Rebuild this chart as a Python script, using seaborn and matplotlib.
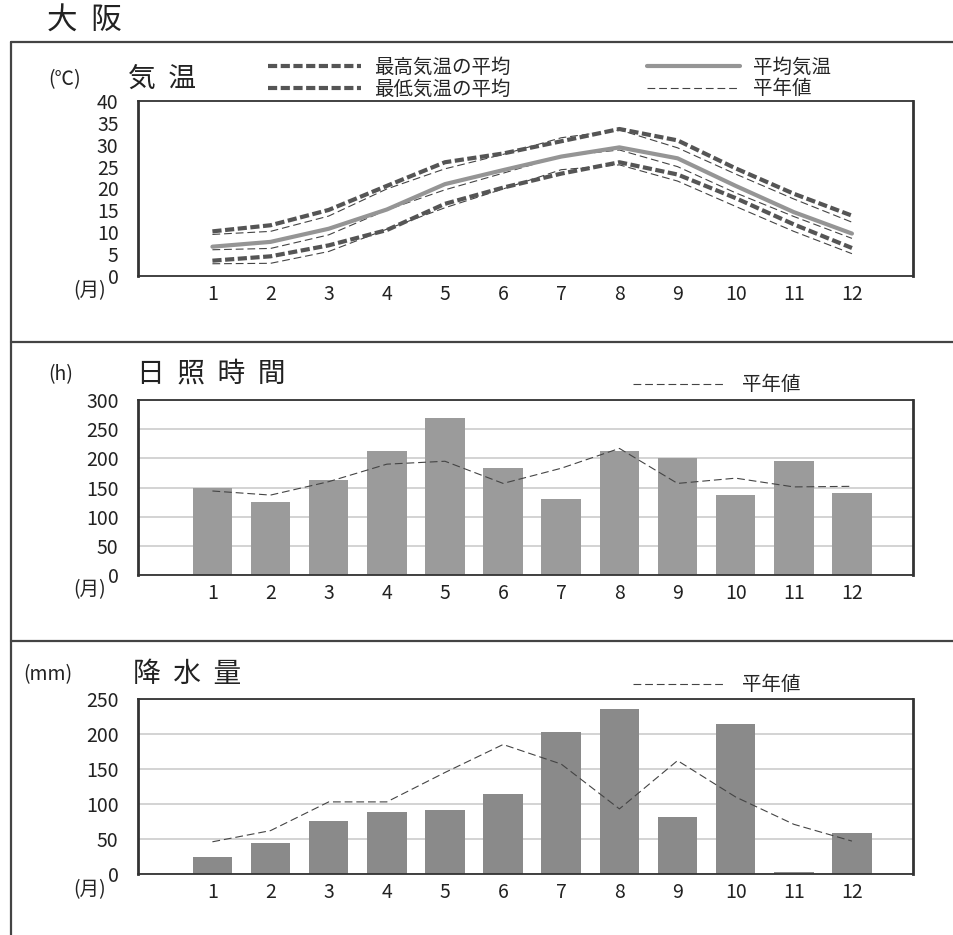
import numpy as np
import pandas as pd
import matplotlib.pyplot as plt
from matplotlib.lines import Line2D
import seaborn as sns

# Data (Osaka, monthly)
months = list(range(1, 13))
month_labels = [str(m) for m in months]

temp_max = [10.2, 11.6, 15.1, 20.6, 26.0, 28.0, 30.8, 33.6, 31.0, 24.6, 18.8, 13.8]
temp_mean = [6.7, 7.8, 10.8, 15.2, 21.0, 24.2, 27.3, 29.4, 26.9, 20.6, 14.6, 9.7]
temp_min = [3.5, 4.5, 7.0, 10.5, 16.5, 20.2, 23.4, 26.0, 23.2, 17.8, 11.8, 6.4]
norm_max = [9.5, 10.2, 13.7, 19.9, 24.5, 27.8, 31.6, 33.4, 29.3, 23.3, 17.6, 12.3]
norm_mean = [6.0, 6.3, 9.4, 15.1, 19.7, 23.5, 27.4, 28.8, 25.0, 19.0, 13.6, 8.6]
norm_min = [2.8, 2.9, 5.6, 10.7, 15.6, 19.9, 24.3, 25.4, 21.7, 15.9, 10.2, 5.1]

sunshine = [150, 126, 163, 213, 270, 183, 131, 213, 200, 138, 195, 141]
norm_sunshine = [144, 137, 160, 190, 195, 157, 183, 217, 157, 166, 151, 152]

precip = [24, 45, 76, 89, 91, 115, 203, 236, 82, 215, 2.5, 59]
norm_precip = [46, 62, 103, 103, 145, 185, 157, 93, 162, 110, 71, 47]

sns.set_theme(style="white")
plt.rcParams['font.family'] = ['Noto Sans CJK JP', 'DejaVu Sans']

W, H = 954, 935
fig = plt.figure(figsize=(W / 100, H / 100), dpi=100)
TXT = '#222222'


def fx(x):
    return x / W


def fy(y):
    return 1 - y / H


def add_panel(top, bottom):
    return fig.add_axes([fx(138), fy(bottom), fx(913) - fx(138), (bottom - top) / H])


def style_axes(ax):
    for side in ['left', 'right']:
        ax.spines[side].set_linewidth(2.0)
    for side in ['top', 'bottom']:
        ax.spines[side].set_linewidth(1.3)
    for s in ax.spines.values():
        s.set_color('#333333')
        s.set_visible(True)
    ax.set_xlim(-0.28, 13.05)
    ax.set_xticks(months)
    ax.set_xticklabels(month_labels)
    ax.set_xlabel('')
    ax.set_ylabel('')
    ax.tick_params(axis='both', labelsize=14, labelcolor=TXT)


def panel_title(unit, unit_x, title, title_x, base_y):
    fig.text(fx(unit_x), fy(base_y - 2), unit, fontsize=14, va='baseline', ha='left', color=TXT)
    fig.text(fx(title_x), fy(base_y), title, fontsize=20, va='baseline', ha='left', color=TXT)


# frame lines of the whole sheet
line_kw = dict(color='#444444', linewidth=1.6, transform=fig.transFigure)
fig.add_artist(Line2D([fx(11), 1], [fy(42), fy(42)], **line_kw))
fig.add_artist(Line2D([fx(11), 1], [fy(342), fy(342)], **line_kw))
fig.add_artist(Line2D([fx(11), 1], [fy(641), fy(641)], **line_kw))
fig.add_artist(Line2D([fx(11), fx(11)], [fy(42), 0], **line_kw))

fig.text(fx(47), fy(30), '大  阪', fontsize=22, va='baseline', ha='left', color=TXT)

thick_dash = (0, (2.2, 0.85))
thin_dash = (0, (7, 3.5))
dark = '#555555'

# 1. Temperature
ax1 = add_panel(101, 276)
sns.lineplot(x=months, y=norm_max, ax=ax1, color='#444444', linewidth=0.8, linestyle=thin_dash)
sns.lineplot(x=months, y=norm_mean, ax=ax1, color='#444444', linewidth=0.8, linestyle=thin_dash)
sns.lineplot(x=months, y=norm_min, ax=ax1, color='#444444', linewidth=0.8, linestyle=thin_dash,
             label='平年値')
sns.lineplot(x=months, y=temp_max, ax=ax1, color=dark, linewidth=3, linestyle=thick_dash,
             label='最高気温の平均')
sns.lineplot(x=months, y=temp_min, ax=ax1, color=dark, linewidth=3, linestyle=thick_dash,
             label='最低気温の平均')
sns.lineplot(x=months, y=temp_mean, ax=ax1, color='#959595', linewidth=3, label='平均気温')
style_axes(ax1)
ax1.set_ylim(0, 40)
ax1.set_yticks(range(0, 41, 5))
ax1.tick_params(axis='y', direction='in', length=14, width=1.3, pad=14, color='#333333')
ax1.tick_params(axis='x', direction='in', length=4, width=1.3, pad=6, color='#333333')
handles, labels = ax1.get_legend_handles_labels()
order = ['最高気温の平均', '最低気温の平均', '平均気温', '平年値']
hmap = dict(zip(labels, handles))
ax1.legend([hmap[k] for k in order], order, ncol=2, loc='center left',
           bbox_to_anchor=(fx(268), fy(78)), bbox_transform=fig.transFigure,
           frameon=False, fontsize=14, handlelength=4.8, handletextpad=0.65,
           columnspacing=7.0, labelspacing=0.05, borderpad=0, borderaxespad=0)
panel_title('(℃)', 48, '気  温', 128, 87)
fig.text(fx(90), fy(291), '(月)', fontsize=14, va='center', ha='center', color=TXT)

# 2. Sunshine duration
ax2 = add_panel(400, 575)
sns.barplot(x=months, y=sunshine, ax=ax2, native_scale=True, color='#9b9b9b',
            saturation=1, width=0.68, errorbar=None, edgecolor='none')
sns.lineplot(x=months, y=norm_sunshine, ax=ax2, color='#444444', linewidth=0.8,
             linestyle=thin_dash, label='平年値')
style_axes(ax2)
ax2.set_ylim(0, 300)
ax2.set_yticks(range(0, 301, 50))
ax2.set_axisbelow(True)
ax2.yaxis.grid(True, color='#cccccc', linewidth=1.2)
ax2.tick_params(axis='both', length=0, pad=14)
ax2.tick_params(axis='x', pad=6)
ax2.legend(loc='center left', bbox_to_anchor=(fx(633), fy(385)), bbox_transform=fig.transFigure,
           frameon=False, fontsize=14, handlelength=4.8, handletextpad=0.8,
           borderpad=0, borderaxespad=0)
panel_title('(h)', 48, '日  照  時  間', 137, 382)
fig.text(fx(90), fy(590), '(月)', fontsize=14, va='center', ha='center', color=TXT)

# 3. Precipitation
ax3 = add_panel(699, 874)
sns.barplot(x=months, y=precip, ax=ax3, native_scale=True, color='#8a8a8a',
            saturation=1, width=0.68, errorbar=None, edgecolor='none')
sns.lineplot(x=months, y=norm_precip, ax=ax3, color='#444444', linewidth=0.8,
             linestyle=thin_dash, label='平年値')
style_axes(ax3)
ax3.set_ylim(0, 250)
ax3.set_yticks(range(0, 251, 50))
ax3.set_axisbelow(True)
ax3.yaxis.grid(True, color='#cccccc', linewidth=1.2)
ax3.tick_params(axis='both', length=0, pad=14)
ax3.tick_params(axis='x', pad=6)
ax3.legend(loc='center left', bbox_to_anchor=(fx(633), fy(685)), bbox_transform=fig.transFigure,
           frameon=False, fontsize=14, handlelength=4.8, handletextpad=0.8,
           borderpad=0, borderaxespad=0)
panel_title('(mm)', 23, '降  水  量', 133, 682)
fig.text(fx(90), fy(890), '(月)', fontsize=14, va='center', ha='center', color=TXT)

fig.savefig('out.png', dpi=100)
